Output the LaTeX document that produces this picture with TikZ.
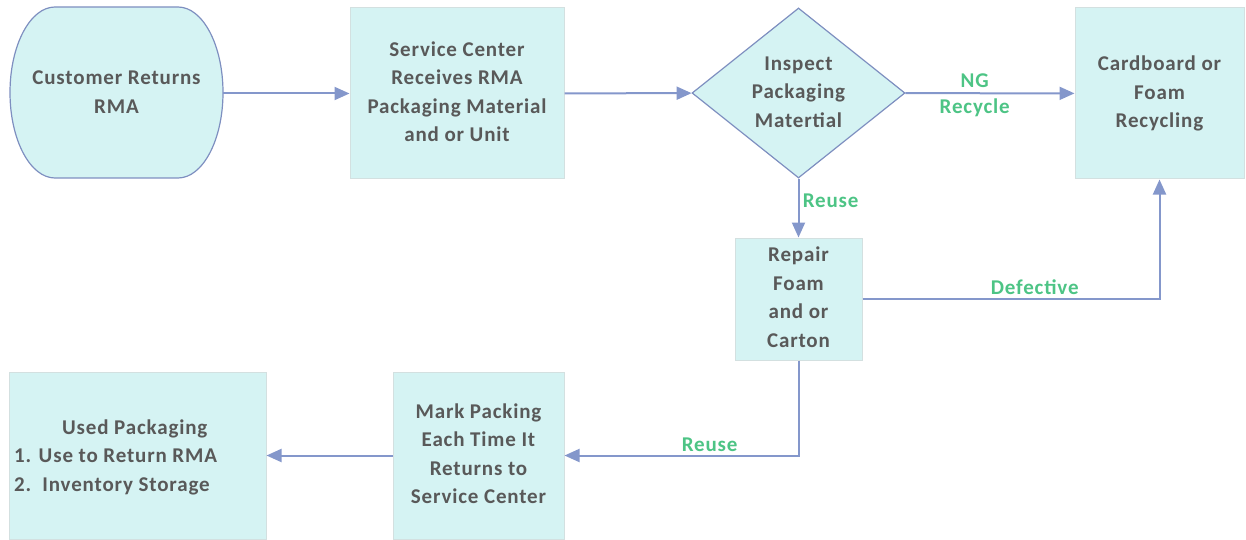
\documentclass[tikz,border=0pt]{standalone}
\usepackage{fontspec}
\setmainfont{Carlito}[LetterSpace=4]
\usepackage{xcolor}
\usetikzlibrary{shapes.geometric,arrows.meta}
\definecolor{boxfill}{HTML}{D5F3F3}
\definecolor{boxline}{HTML}{D3E0E0}
\definecolor{shapeline}{HTML}{7E8FC0}
\definecolor{flowline}{HTML}{8497CB}
\definecolor{txtgray}{HTML}{595959}
\definecolor{labgreen}{HTML}{4DC485}

\begin{document}
\begin{tikzpicture}[x=1pt,y=1pt,
  every node/.style={text=txtgray, font=\bfseries\fontsize{21}{28.5}\selectfont},
  box/.style={draw=boxline, fill=boxfill, line width=1pt, inner sep=0pt},
  flow/.style={-{Triangle[length=15pt,width=13pt]}, draw=flowline, line width=2pt},
  lab/.style={text=labgreen, font=\bfseries\fontsize{21}{24}\selectfont}]
%		    \draw[help lines] (0,0) grid[step=50] (1246,539);
			\useasboundingbox (0,0) rectangle (1246,539);
			\filldraw[draw=shapeline, fill=boxfill, line width=1.2pt] (55,532) -- (178,532) arc[start angle=90, end angle=-90, x radius=45, y radius=85.5] -- (55,361) arc[start angle=270, end angle=90, x radius=45, y radius=85.5] -- cycle;
			\node[minimum width=213pt, minimum height=171pt, inner sep=0pt] (customer) at (116.5,445.5) {\begin{tabular}{c} Customer Returns \\ RMA \end{tabular}};
			\node[box, minimum width=214pt, minimum height=171pt] (service) at (457,445.5) {\begin{tabular}{c} Service Center \\ Receives RMA \\ Packaging Material \\ and or Unit \end{tabular}};
			\node[diamond, aspect=1.25, draw=shapeline, fill=boxfill, line width=1.2pt, inner sep=-10pt, minimum width=213pt, minimum height=170pt] (inspect) at (798.5,446) {\begin{tabular}{c} Inspect \\ Packaging \\ Matertial \end{tabular}};
			\node[box, minimum width=169pt, minimum height=171pt] (recycle) at (1159.5,445.5) {\begin{tabular}{c} Cardboard or \\ Foam \\ Recycling \end{tabular}};
			\node[box, minimum width=127pt, minimum height=122pt] (repair) at (798.5,240) {\begin{tabular}{c} Repair \\ Foam \\ and or \\ Carton \end{tabular}};
			\node[box, minimum width=171pt, minimum height=167pt] (mark) at (478.5,83.5) {\begin{tabular}{c} Mark Packing \\ Each Time It \\ Returns to \\ Service Center \end{tabular}};
			\node[box, minimum width=257pt, minimum height=167pt] (used) at (137.5,83.5) {};
			\node[anchor=west, inner sep=0pt] (usedtext) at (14,82) {\begin{tabular}{@{}l@{}} \hspace*{48pt}Used Packaging \\ 1. Use to Return RMA \\ 2.\ \ Inventory Storage \end{tabular}};
			\draw[flow] (customer) -- (service);
			\draw[flow] (service) -- (inspect);
			\draw[flow] (inspect) -- (recycle) node[lab, above=1pt, pos=0.41] {NG} node[lab, below=1pt, pos=0.41] {Recycle};
			\draw[flow] (inspect) -- (repair) node[lab, right, pos=0.38] {Reuse};
			\draw[flow] (repair) -| (recycle) node[lab, above, pos=0.29] {Defective};
			\draw[flow] (repair) |- (mark) node[lab, above, pos=0.69] {Reuse};
			\draw[flow] (mark) -- (used);
		\end{tikzpicture}
\end{document}
